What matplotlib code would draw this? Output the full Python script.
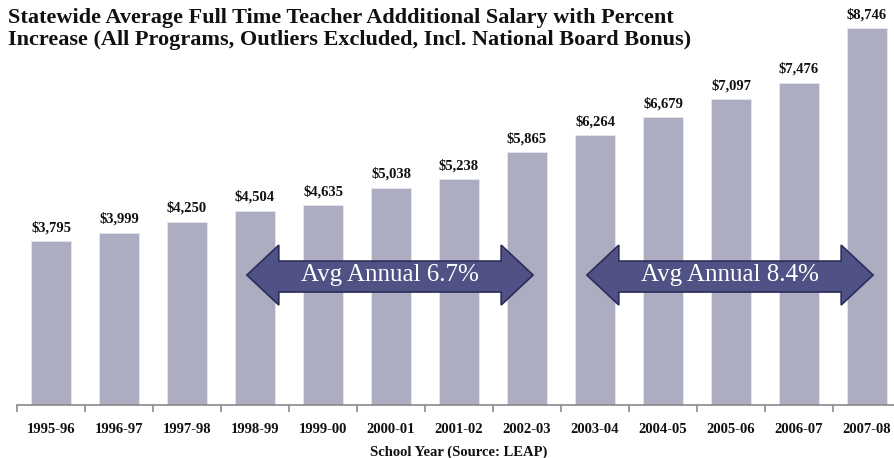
import matplotlib
matplotlib.use("Agg")
import matplotlib.pyplot as plt
from matplotlib.patches import Polygon
from matplotlib.ticker import FixedLocator

years = ["1995-96", "1996-97", "1997-98", "1998-99", "1999-00", "2000-01", "2001-02",
         "2002-03", "2003-04", "2004-05", "2005-06", "2006-07", "2007-08"]
salary = [3795, 3999, 4250, 4504, 4635, 5038, 5238, 5865, 6264, 6679, 7097, 7476, 8746]
arrow_labels = ["Avg Annual 6.7%", "Avg Annual 8.4%"]

SERIF = ["Liberation Serif", "DejaVu Serif"]

W, H = 894, 458
fig = plt.figure(figsize=(W / 100, H / 100), dpi=100)
ax = fig.add_axes([17 / W, 1 - 405 / H, 884 / W, 405 / H])

x = list(range(len(years)))
bars = ax.bar(x, salary, width=0.575, color="#adadc1", edgecolor="#e6e6ee", linewidth=0.6, zorder=2)
ax.set_xlim(-0.5, len(years) - 0.5)
ax.set_ylim(0, 9400)

for xi, v in zip(x, salary):
    ax.annotate(f"${v:,}", (xi, v), xytext=(0, 5), textcoords="offset points",
                ha="center", va="bottom", fontsize=10.5, fontweight="bold",
                family=SERIF, color="#111111")

for s in ["top", "right", "left"]:
    ax.spines[s].set_visible(False)
ax.spines["bottom"].set_color("#8a8a8a")
ax.spines["bottom"].set_linewidth(1.2)
ax.set_yticks([])
ax.set_xticks(x)
ax.set_xticklabels(years, fontsize=10.5, fontweight="bold", family=SERIF, color="#111111")
ax.tick_params(axis="x", which="major", length=0, pad=13)
ax.xaxis.set_minor_locator(FixedLocator([i - 0.5 for i in range(len(years) + 1)]))
ax.tick_params(axis="x", which="minor", length=5, color="#8a8a8a", width=1.2)
ax.set_xlabel("School Year (Source: LEAP)", fontsize=10.5, fontweight="bold", family=SERIF,
              color="#111111", labelpad=7)


def double_arrow(x0, x1, text):
    head = 0.47
    yt, yb = 3712, 2320
    st, sb = 3341, 2622
    ym = (yt + yb) / 2
    pts = [(x0, ym), (x0 + head, yt), (x0 + head, st), (x1 - head, st), (x1 - head, yt),
           (x1, ym), (x1 - head, yb), (x1 - head, sb), (x0 + head, sb), (x0 + head, yb)]
    ax.add_patch(Polygon(pts, closed=True, facecolor="#505185", edgecolor="#2c2d5a",
                         linewidth=1.2, zorder=3))
    ax.text((x0 + x1) / 2, ym, text, ha="center", va="center", fontsize=18,
            family=SERIF, color="white", zorder=4)


double_arrow(2.88, 7.09, arrow_labels[0])
double_arrow(7.88, 12.09, arrow_labels[1])

fig.text(8 / W, 1 - 8 / H,
         "Statewide Average Full Time Teacher Addditional Salary with Percent\n"
         "Increase (All Programs, Outliers Excluded, Incl. National Board Bonus)",
         ha="left", va="top", fontsize=16, fontweight="bold", family=SERIF,
         color="#111111", linespacing=1.12)

fig.savefig("out.png", dpi=100)
